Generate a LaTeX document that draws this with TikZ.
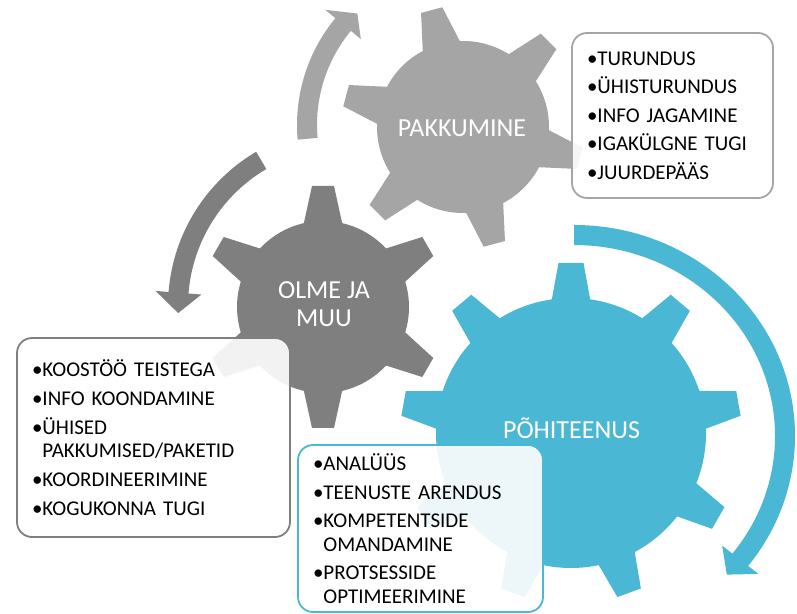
\documentclass[tikz,border=0pt]{standalone}
\usepackage{fontspec}
\setmainfont{Carlito}
\definecolor{lightgear}{HTML}{A5A5A5}
\definecolor{darkgear}{HTML}{7F7F7F}
\definecolor{bluegear}{HTML}{4AB7D4}

\begin{document}
\begin{tikzpicture}[x=1pt,y=1pt,
  gearlbl/.style={text=white,font=\fontsize{26}{28.5}\selectfont,align=center,inner sep=0pt},
  listbox/.style={line width=1.8pt,rounded corners=15pt,fill=white,fill opacity=0.9,text opacity=1,
    align=left,inner xsep=15pt,inner ysep=0pt,font=\fontsize{21}{23.5}\selectfont}]
\useasboundingbox (0,0) rectangle (797,613);

% gears
\begin{scope}[shift={(571,180)}]
\fill[bluegear] (0,0) circle (135);
\foreach \a in {90,130,...,410}
  \fill[bluegear,rotate=\a] (129,-20) -- (170,-12.5) -- (170,12.5) -- (129,20) -- cycle;
\end{scope}
\begin{scope}[shift={(323,306)}]
\fill[darkgear] (0,0) circle (86);
\foreach \a in {90,150,...,390}
  \fill[darkgear,rotate=\a] (80,-20) -- (121,-11) -- (121,11) -- (80,20) -- cycle;
\end{scope}
\begin{scope}[shift={(463,486)}]
\fill[lightgear] (0,0) circle (86);
\foreach \a in {105,165,...,405}
  \fill[lightgear,rotate=\a] (80,-20) -- (121,-11) -- (121,11) -- (80,20) -- cycle;
\end{scope}

% cycle arrows
\fill[lightgear,shift={(465,488)}] (185:168) arc[start angle=185,end angle=140.5,radius=168]
  -- (140.5:181) -- (134:155) -- (140.5:135) -- (140.5:148)
  arc[start angle=140.5,end angle=185,radius=148] -- cycle;
\fill[darkgear,shift={(347,307)}] (120.5:179) arc[start angle=120.5,end angle=175.5,radius=179]
  -- (175.5:192) -- (182.4:169) -- (175.5:146) -- (175.5:159)
  arc[start angle=175.5,end angle=120.5,radius=159] -- cycle;
\fill[bluegear,shift={(574,177)}] (90:221 and 211) arc[start angle=90,end angle=-38,x radius=221,y radius=211]
  -- (-38:234 and 224) -- (-43.6:211 and 201) -- (-38:188 and 178) -- (-38:201 and 191)
  arc[start angle=-38,end angle=90,x radius=201,y radius=191] -- cycle;

% lists
\node[listbox,draw=lightgear,text width=171pt,minimum height=165pt] (pakklist) at (672.5,497.5)
  {•TURUNDUS\\[5pt]•ÜHISTURUNDUS\\[5pt]•INFO JAGAMINE\\[5pt]•IGAKÜLGNE TUGI\\[5pt]•JUURDEPÄÄS};
\node[listbox,draw=darkgear,text width=243pt,minimum height=199pt] (olmelist) at (153.5,175.5)
  {•KOOSTÖÖ TEISTEGA\\[5.5pt]•INFO KOONDAMINE\\[5.5pt]•ÜHISED\\\phantom{•}PAKKUMISED/PAKETID\\[5.5pt]•KOORDINEERIMINE\\[5.5pt]•KOGUKONNA TUGI};
\node[listbox,draw=bluegear,text width=215pt,minimum height=167pt] (pohilist) at (420.5,84.5)
  {•ANALÜÜS\\[5pt]•TEENUSTE ARENDUS\\[5pt]•KOMPETENTSIDE\\\phantom{•}OMANDAMINE\\[5pt]•PROTSESSIDE\\\phantom{•}OPTIMEERIMINE};

% gear names
\node[gearlbl] (pakk) at (462,484.3) {PAKKUMINE};
\node[gearlbl] (olme) at (324,308.8) {OLME JA\\MUU};
\node[gearlbl,anchor=base] (pohi) at (571.5,174.7) {PÕHITEENUS};
\end{tikzpicture}
\end{document}
